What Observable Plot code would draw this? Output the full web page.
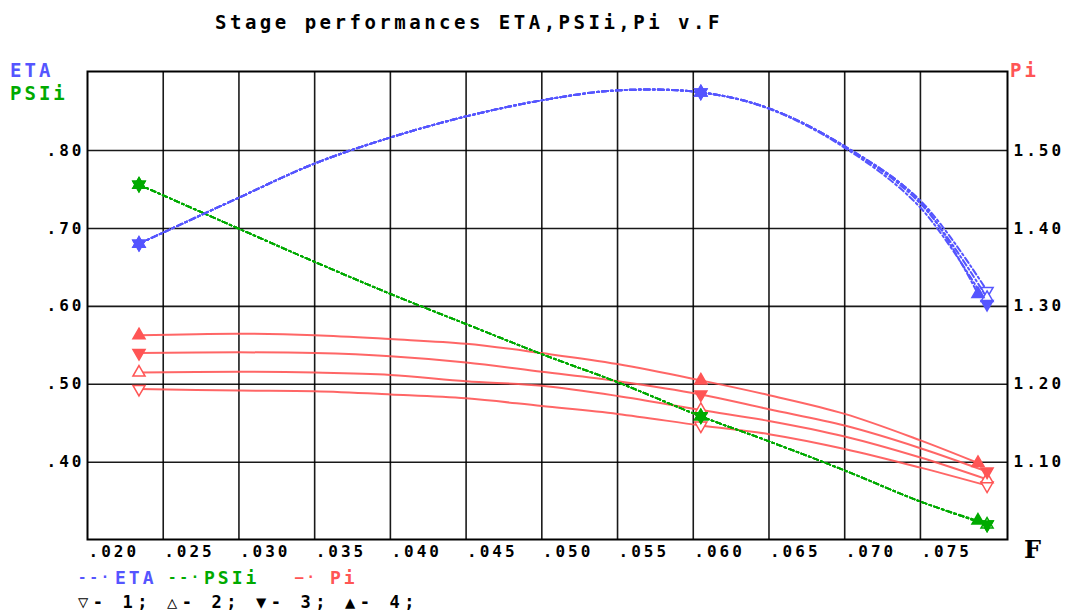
<!DOCTYPE html>
<html><head><meta charset="utf-8">
<script src="https://cdn.jsdelivr.net/npm/d3@7"></script>
<script src="https://cdn.jsdelivr.net/npm/@observablehq/plot@0.6"></script>
<style>
body{margin:0;background:#fff;}
#wrap{position:relative;width:1072px;height:614px;overflow:hidden;font-family:"DejaVu Sans Mono",monospace;font-weight:bold;}
#wrap svg{position:absolute;left:0;top:0;}
#wrap svg text{letter-spacing:3px;}
.t{position:absolute;white-space:pre;line-height:1;font-weight:bold;font-family:"DejaVu Sans Mono",monospace;}
</style></head><body>
<div id="wrap"></div>
<script>
// ---- data ----
const F = [0.0234, 0.030, 0.035, 0.040, 0.045, 0.050, 0.055, 0.0605, 0.065, 0.070, 0.075];
const F_END = [0.0794, 0.0794, 0.0794, 0.0788];
const SERIES = ["1", "2", "3", "4"];

const ETA_1 = [0.6803, 0.7395, 0.7833, 0.8167, 0.8438, 0.8644, 0.8772, 0.8746, 0.8541, 0.8055, 0.7357, 0.6198];
const ETA_2 = [0.6803, 0.7395, 0.7833, 0.8167, 0.8438, 0.8644, 0.8772, 0.8746, 0.8541, 0.8050, 0.7318, 0.6108];
const ETA_3 = [0.6803, 0.7395, 0.7833, 0.8167, 0.8438, 0.8644, 0.8772, 0.8746, 0.8535, 0.8035, 0.7266, 0.6031];
const ETA_4 = [0.6803, 0.7395, 0.7833, 0.8167, 0.8438, 0.8644, 0.8772, 0.8746, 0.8541, 0.8055, 0.7344, 0.6160];

const PSI_1 = [0.7562, 0.6996, 0.6571, 0.6160, 0.5773, 0.5387, 0.5027, 0.4589, 0.4268, 0.3894, 0.3495, 0.3199];
const PSI_2 = [0.7562, 0.6996, 0.6571, 0.6160, 0.5773, 0.5387, 0.5027, 0.4589, 0.4268, 0.3894, 0.3495, 0.3199];
const PSI_3 = [0.7562, 0.6996, 0.6571, 0.6160, 0.5773, 0.5387, 0.5027, 0.4589, 0.4268, 0.3894, 0.3495, 0.3199];
const PSI_4 = [0.7562, 0.6996, 0.6571, 0.6160, 0.5773, 0.5387, 0.5027, 0.4589, 0.4268, 0.3894, 0.3495, 0.3251];

const PI_1 = [1.194, 1.192, 1.191, 1.187, 1.182, 1.172, 1.162, 1.147, 1.136, 1.117, 1.093, 1.070];
const PI_2 = [1.215, 1.216, 1.215, 1.212, 1.204, 1.198, 1.185, 1.167, 1.153, 1.133, 1.106, 1.078];
const PI_3 = [1.240, 1.241, 1.240, 1.236, 1.228, 1.216, 1.204, 1.187, 1.168, 1.147, 1.118, 1.088];
const PI_4 = [1.263, 1.265, 1.263, 1.258, 1.252, 1.240, 1.226, 1.205, 1.186, 1.162, 1.128, 1.099];

const MARKER_INDEX = [0, 7, 11];

const X_TICKS = [0.020, 0.025, 0.030, 0.035, 0.040, 0.045, 0.050, 0.055, 0.060, 0.065, 0.070, 0.075];
const Y_TICKS = [0.40, 0.50, 0.60, 0.70, 0.80];
const PI_TICKS = [1.10, 1.20, 1.30, 1.40, 1.50];

const TITLE = "Stage performances ETA,PSIi,Pi v.F";

// ---- build ----
const BLUE = "#5555ff", GREEN = "#00aa00", RED = "#ff5555";
const ETA = [ETA_1, ETA_2, ETA_3, ETA_4];
const PSI = [PSI_1, PSI_2, PSI_3, PSI_4];
const PI = [PI_1, PI_2, PI_3, PI_4];
const piToLeft = d3.scaleLinear().domain([PI_TICKS[0], PI_TICKS[4]]).range([Y_TICKS[0], Y_TICKS[4]]);

const rows = [];
SERIES.forEach((s, k) => {
  const xs = [...F, F_END[k]];
  xs.forEach((f, i) => rows.push({s, k, i, F: f, eta: ETA[k][i], psi: PSI[k][i], pi: piToLeft(PI[k][i])}));
});
const markers = rows.filter(d => MARKER_INDEX.includes(d.i));

const triDown = {draw(ctx, size) {
  const y = -Math.sqrt(size / (Math.sqrt(3) * 3));
  ctx.moveTo(0, -2 * y);
  ctx.lineTo(-Math.sqrt(3) * y, y);
  ctx.lineTo(Math.sqrt(3) * y, y);
  ctx.closePath();
}};
const SYM = [triDown, "triangle", triDown, "triangle"];
const FILLED = [false, false, true, true];

const dotMarks = [];
[["pi", RED], ["psi", GREEN], ["eta", BLUE]].forEach(([key, col]) => {
  SERIES.forEach((s, k) => {
    dotMarks.push(Plot.dot(markers.filter(d => d.k === k), {
      x: "F", y: key, symbol: SYM[k], r: 4.5,
      stroke: col, strokeWidth: 1.5, fill: FILLED[k] ? col : "white"
    }));
  });
});

const fmtL = d => d3.format(".2f")(d).replace(/^0/, "");
const fmtX = d => d3.format(".3f")(d).replace(/^0/, "");

const chart = Plot.plot({
  width: 1072, height: 614,
  marginLeft: 87, marginRight: 65, marginTop: 71, marginBottom: 75,
  style: {background: "transparent", fontFamily: "DejaVu Sans Mono, monospace", fontWeight: "bold", fontSize: "16px", color: "#000"},
  x: {domain: [0.020, 0.08075]},
  y: {domain: [0.3008, 0.9014]},
  marks: [
    Plot.ruleX(X_TICKS.slice(1), {stroke: "#000", strokeWidth: 1.6, strokeOpacity: 0.9}),
    Plot.ruleY(Y_TICKS, {stroke: "#000", strokeWidth: 1.6, strokeOpacity: 0.9}),
    Plot.frame({stroke: "#000", strokeWidth: 2}),
    Plot.axisX(X_TICKS, {tickSize: 0, tickPadding: 6, tickFormat: fmtX, textAnchor: "start", dx: 1, fontSize: 16, label: null}),
    Plot.axisY(Y_TICKS, {anchor: "left", tickSize: 0, tickPadding: 3, tickFormat: fmtL, fontSize: 16, label: null}),
    Plot.axisY(Y_TICKS, {anchor: "right", tickSize: 0, tickPadding: 6, tickFormat: d => piToLeft.invert(d).toFixed(2), fontSize: 16, label: null}),
    Plot.line(rows, {x: "F", y: "pi", z: "s", stroke: RED, strokeWidth: 2, strokeOpacity: 0.9, curve: "catmull-rom"}),
    Plot.line(rows, {x: "F", y: "psi", z: "s", stroke: GREEN, strokeWidth: 1.8, strokeDasharray: "5,3,2,3", curve: "catmull-rom"}),
    Plot.line(rows, {x: "F", y: "eta", z: "s", stroke: BLUE, strokeWidth: 2, strokeDasharray: "6,3,2,3", curve: "catmull-rom"}),
    ...dotMarks
  ]
});

const wrap = document.getElementById("wrap");
wrap.appendChild(chart);

function addText(txt, left, top, size, ls, color, family) {
  const d = document.createElement("div");
  d.className = "t";
  d.textContent = txt;
  d.style.left = left + "px";
  d.style.top = top + "px";
  d.style.fontSize = size + "px";
  d.style.letterSpacing = ls + "px";
  d.style.color = color;
  if (family) d.style.fontFamily = family;
  wrap.appendChild(d);
  return d;
}
addText(TITLE, 215, 13, 19, 3.5, "#000");
addText("ETA", 10, 61, 19, 3, BLUE);
addText("PSIi", 10, 84, 19, 3, GREEN);
addText("Pi", 1010, 61, 19, 3, RED);
addText("F", 1024, 538, 24, 0, "#000", "DejaVu Serif, serif");
// legend line 1
addText("--·", 78, 570, 14, 3, BLUE);
addText("ETA", 115, 569, 18, 3, BLUE);
addText("--·", 168, 570, 14, 3, GREEN);
addText("PSIi", 204, 569, 18, 3, GREEN);
addText("—·", 295, 570, 14, 3, RED);
addText("Pi", 330, 569, 18, 3, RED);
// legend line 2
addText("▽- 1; △- 2; ▼- 3; ▲- 4;", 78, 594, 17, 4.6, "#000");
</script>
</body></html>
